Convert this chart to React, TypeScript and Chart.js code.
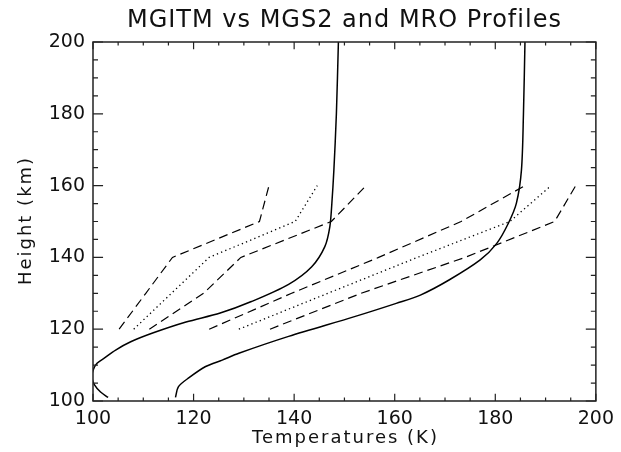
import React, { useEffect, useRef } from "react";
import { Chart, registerables } from "chart.js";

Chart.register(...registerables);

// Title and axis text
const chartTitle = "MGITM vs MGS2 and MRO Profiles";
const xTitle = "Temperatures (K)";
const yTitle = "Height (km)";

// Axis ranges / ticks
const xRange = [100, 200];
const yRange = [100, 200];
const majorStep = 20;
const minorStep = 5;

// MGITM model profiles (solid): temperature (K) vs height (km)
const mgitmColdT = [103.0, 101.5, 100.3, 99.8, 100.0, 100.8, 102.3, 104.5, 107.5, 112.0, 118.5, 125.3, 131.5, 138.9, 143.5, 146.1, 147.1, 147.5, 147.9, 148.4, 148.8];
const mgitmColdH = [101.0, 102.5, 104.5, 106.5, 108.5, 110.5, 112.0, 114.2, 116.5, 119.0, 122.0, 124.5, 127.7, 132.5, 137.4, 143.0, 148.6, 155.1, 164.3, 180.0, 200.0];

const mgitmWarmT = [116.4, 117.0, 119.1, 122.4, 125.7, 129.0, 138.9, 152.0, 160.3, 165.1, 170.8, 177.0, 180.3, 182.6, 184.2, 185.2, 185.6, 185.9];
const mgitmWarmH = [101.0, 104.0, 106.5, 109.6, 111.4, 113.3, 118.0, 123.5, 127.2, 129.5, 133.7, 139.3, 143.9, 149.5, 155.1, 164.3, 180.0, 200.0];

// Observed profiles (dashed / dotted), sampled every 10 km
const obsHeights = [120, 130, 140, 150, 160];
const coldDashA = [105.2, 110.5, 115.8, 133.1, 135.0];
const coldDotted = [108.1, 115.6, 123.1, 140.2, 144.6];
const coldDashB = [111.2, 122.0, 129.4, 147.4, 154.3];
const warmDashA = [123.1, 139.5, 156.8, 173.2, 185.9];
const warmDotted = [129.0, 146.7, 164.5, 182.9, 191.1];
const warmDashB = [135.2, 153.3, 174.0, 191.8, 196.0];

const FONT = "'DejaVu Sans', 'Liberation Sans', sans-serif";

function pts(xs: number[], ys: number[]) {
  return xs.map((x, i) => ({ x, y: ys[i] }));
}

const framePlugin = {
  id: "idlFrame",
  afterDraw(chart: any) {
    const { ctx, chartArea } = chart;
    const { left, right, top, bottom } = chartArea;
    const xs = chart.scales.x;
    const ys = chart.scales.y;
    ctx.save();
    ctx.strokeStyle = "#222";
    ctx.lineWidth = 1.5;
    ctx.beginPath();
    ctx.rect(left, top, right - left, bottom - top);
    ctx.stroke();
    ctx.lineWidth = 1.2;
    ctx.beginPath();
    const xMaj = (bottom - top) * 0.02;
    const yMaj = (right - left) * 0.02;
    for (let v = xRange[0]; v <= xRange[1] + 1e-9; v += minorStep) {
      const isMaj = Math.abs((v - xRange[0]) % majorStep) < 1e-6;
      const len = isMaj ? xMaj : xMaj / 2;
      const px = xs.getPixelForValue(v);
      ctx.moveTo(px, bottom);
      ctx.lineTo(px, bottom - len);
      ctx.moveTo(px, top);
      ctx.lineTo(px, top + len);
    }
    for (let v = yRange[0]; v <= yRange[1] + 1e-9; v += minorStep) {
      const isMaj = Math.abs((v - yRange[0]) % majorStep) < 1e-6;
      const len = isMaj ? yMaj : yMaj / 2;
      const py = ys.getPixelForValue(v);
      ctx.moveTo(left, py);
      ctx.lineTo(left + len, py);
      ctx.moveTo(right, py);
      ctx.lineTo(right - len, py);
    }
    ctx.stroke();
    ctx.fillStyle = "#111";
    ctx.textAlign = "center";
    ctx.textBaseline = "middle";
    // title
    ctx.font = `24px ${FONT}`;
    (ctx as any).letterSpacing = "1px";
    ctx.fillText(chartTitle, (left + right) / 2, 21);
    // axis titles
    ctx.font = `18px ${FONT}`;
    (ctx as any).letterSpacing = "2px";
    ctx.fillText(xTitle, (left + right) / 2 + 1, 438);
    ctx.save();
    ctx.translate(26, (top + bottom) / 2);
    ctx.rotate(-Math.PI / 2);
    ctx.fillText(yTitle, 1, 0);
    ctx.restore();
    ctx.restore();
  },
};

export default function App() {
  const ref = useRef<HTMLCanvasElement | null>(null);
  useEffect(() => {
    document.body.style.margin = "0";
    if (!ref.current) return;
    const solid = { borderColor: "#000", borderWidth: 1.5, pointRadius: 0, showLine: true, tension: 0.3, fill: false };
    const dash = { borderColor: "#000", borderWidth: 1.2, pointRadius: 0, showLine: true, tension: 0, fill: false, borderDash: [9, 5] };
    const dot = { borderColor: "#000", borderWidth: 1.3, pointRadius: 0, showLine: true, tension: 0, fill: false, borderDash: [1.3, 3.2] };
    const chart = new Chart(ref.current, {
      type: "scatter",
      data: {
        datasets: [
          { ...solid, label: "MGITM 1", data: pts(mgitmColdT, mgitmColdH) },
          { ...solid, label: "MGITM 2", data: pts(mgitmWarmT, mgitmWarmH) },
          { ...dash, label: "Obs 1", data: pts(coldDashA, obsHeights) },
          { ...dot, label: "Obs 2", data: pts(coldDotted, obsHeights) },
          { ...dash, label: "Obs 3", data: pts(coldDashB, obsHeights) },
          { ...dash, label: "Obs 4", data: pts(warmDashA, obsHeights) },
          { ...dot, label: "Obs 5", data: pts(warmDotted, obsHeights) },
          { ...dash, label: "Obs 6", data: pts(warmDashB, obsHeights) },
        ] as any,
      },
      options: {
        animation: false,
        responsive: false,
        maintainAspectRatio: false,
        layout: { padding: { top: 42, right: 21, bottom: 0, left: 0 } },
        plugins: { legend: { display: false }, tooltip: { enabled: false }, title: { display: false } },
        scales: {
          x: {
            type: "linear",
            min: xRange[0],
            max: xRange[1],
            grid: { display: false, drawTicks: false },
            border: { display: false },
            ticks: { stepSize: majorStep, padding: 7, color: "#111", font: { family: FONT, size: 19 } },
            title: { display: false, text: xTitle },
            afterFit: (s: any) => { s.height = 51; },
          },
          y: {
            type: "linear",
            min: yRange[0],
            max: yRange[1],
            grid: { display: false, drawTicks: false },
            border: { display: false },
            ticks: { stepSize: majorStep, padding: 8, color: "#111", font: { family: FONT, size: 19 } },
            title: { display: false, text: yTitle },
            afterFit: (s: any) => { s.width = 93; },
          },
        },
      },
      plugins: [framePlugin],
    });
    return () => chart.destroy();
  }, []);
  return (
    <div style={{ width: 621, height: 452, background: "#fff" }}>
      <canvas ref={ref} width={621} height={452} style={{ display: "block" }} />
    </div>
  );
}
